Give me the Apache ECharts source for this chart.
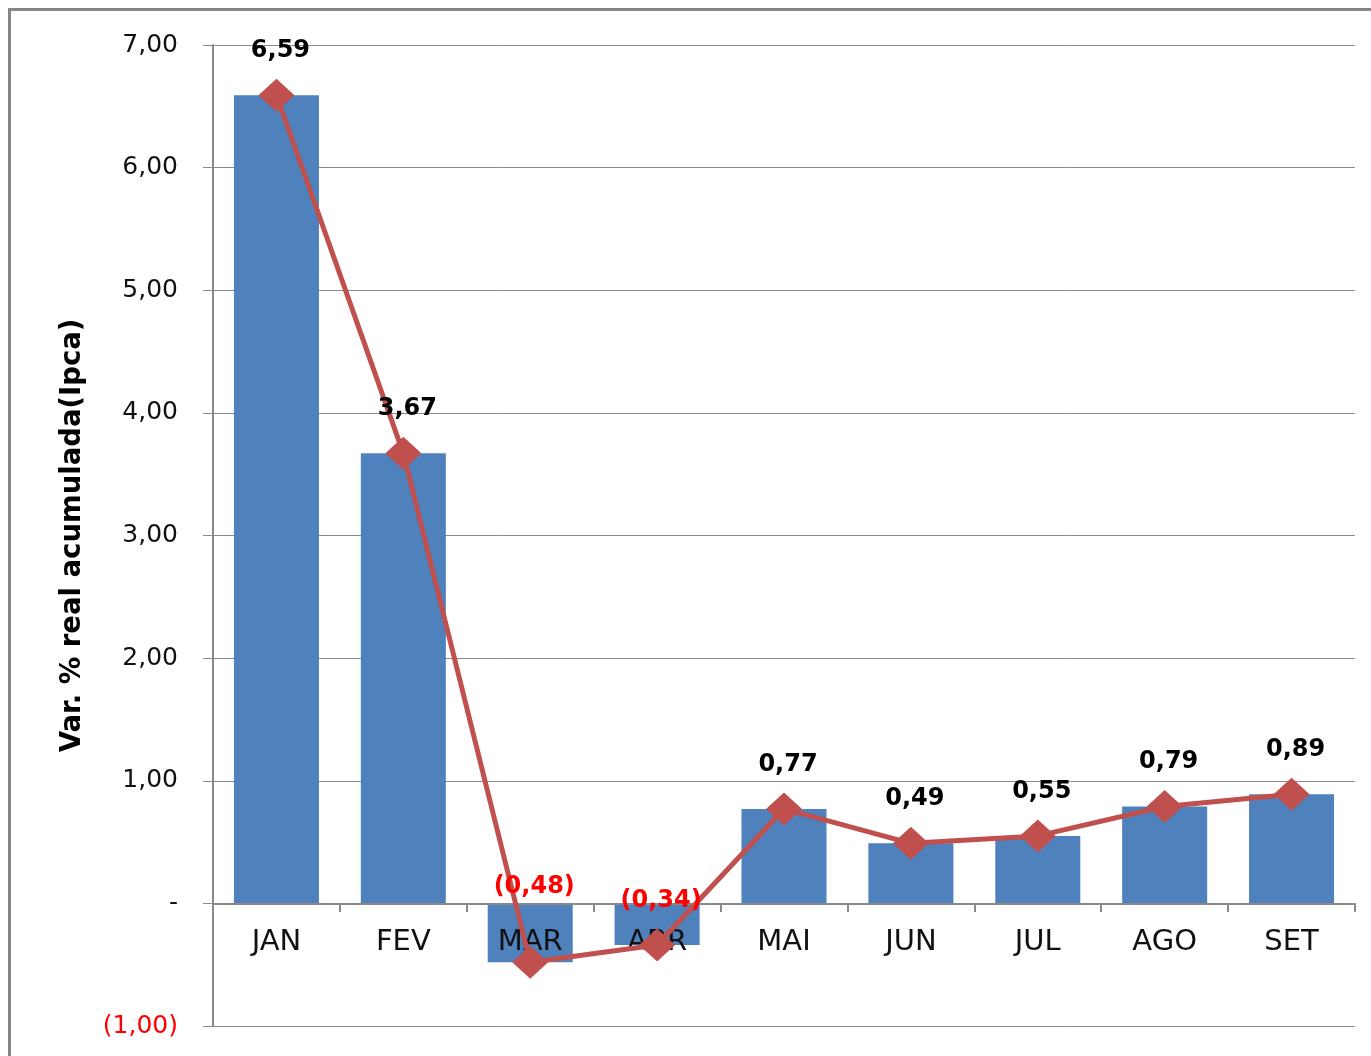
<!DOCTYPE html>
<html>
<head>
<meta charset="utf-8">
<script src="https://cdn.jsdelivr.net/npm/echarts@6/dist/echarts.min.js"></script>
<style>
  html, body { margin: 0; padding: 0; background: #fff; }
  #chart { width: 1371px; height: 1056px; }
</style>
</head>
<body>
<div id="chart"></div>
<script>
var categories = ['JAN', 'FEV', 'MAR', 'ABR', 'MAI', 'JUN', 'JUL', 'AGO', 'SET'];
var values = [6.59, 3.67, -0.48, -0.34, 0.77, 0.49, 0.55, 0.79, 0.89];
var labelDistances = [16, 16, 47, 16, 16, 16, 16, 16, 16];
var yAxisName = 'Var. % real acumulada(Ipca)';

function fmt(v) {
  var s = Math.abs(v).toFixed(2).replace('.', ',');
  return v < 0 ? '(' + s + ')' : s;
}

var FONT = 'DejaVu Sans';
var lineData = values.map(function (v, i) {
  return {
    value: v,
    label: { color: v < 0 ? '#ff0000' : '#000000', distance: labelDistances[i] }
  };
});

var chart = echarts.init(document.getElementById('chart'));
chart.setOption({
  animation: false,
  backgroundColor: '#ffffff',
  graphic: [{
    type: 'rect',
    shape: { x: 9.5, y: 9.5, width: 1400, height: 1100 },
    style: { fill: 'none', stroke: '#868686', lineWidth: 3 },
    silent: true
  }],
  grid: { left: 213, right: 16, top: 45, bottom: 30, containLabel: false, outerBoundsMode: 'none' },
  xAxis: {
    type: 'category',
    data: categories,
    z: 3,
    position: 'bottom',
    offset: -122,
    axisLine: { onZero: false, lineStyle: { color: '#8a8a8a', width: 2 } },
    axisTick: { show: true, length: 8, inside: false, alignWithLabel: false, lineStyle: { color: '#8a8a8a', width: 2 } },
    axisLabel: { color: '#111', fontFamily: FONT, fontSize: 29, margin: 24 },
    splitLine: { show: false }
  },
  yAxis: {
    type: 'value',
    min: -1,
    max: 7,
    interval: 1,
    name: yAxisName,
    nameLocation: 'middle',
    nameGap: 126,
    nameRotate: 90,
    nameTextStyle: { fontFamily: FONT, fontWeight: 'bold', fontSize: 27.5, color: '#000' },
    axisLine: { show: true, lineStyle: { color: '#8a8a8a', width: 2 } },
    axisTick: { show: true, length: 10, lineStyle: { color: '#8a8a8a', width: 1 } },
    axisLabel: {
      fontFamily: FONT,
      fontSize: 25,
      margin: 35,
      color: function (v) { return Number(v) < 0 ? '#ff0000' : '#111111'; },
      formatter: function (v) {
        if (v === 0) return '-';
        return fmt(v);
      }
    },
    splitLine: { show: true, lineStyle: { color: '#8a8a8a', width: 1 } }
  },
  series: [
    {
      type: 'bar',
      data: values,
      barWidth: '67%',
      z: 2,
      itemStyle: { color: '#4F81BD' }
    },
    {
      type: 'line',
      data: lineData,
      z: 5,
      symbol: 'diamond',
      symbolSize: [36, 33],
      lineStyle: { color: '#C0504D', width: 5 },
      itemStyle: { color: '#C0504D' },
      label: {
        show: true,
        position: 'top',
        offset: [4, 0],
        fontFamily: FONT,
        fontWeight: 'bold',
        fontSize: 24,
        formatter: function (p) { return fmt(p.value); }
      }
    }
  ]
});
</script>
</body>
</html>
